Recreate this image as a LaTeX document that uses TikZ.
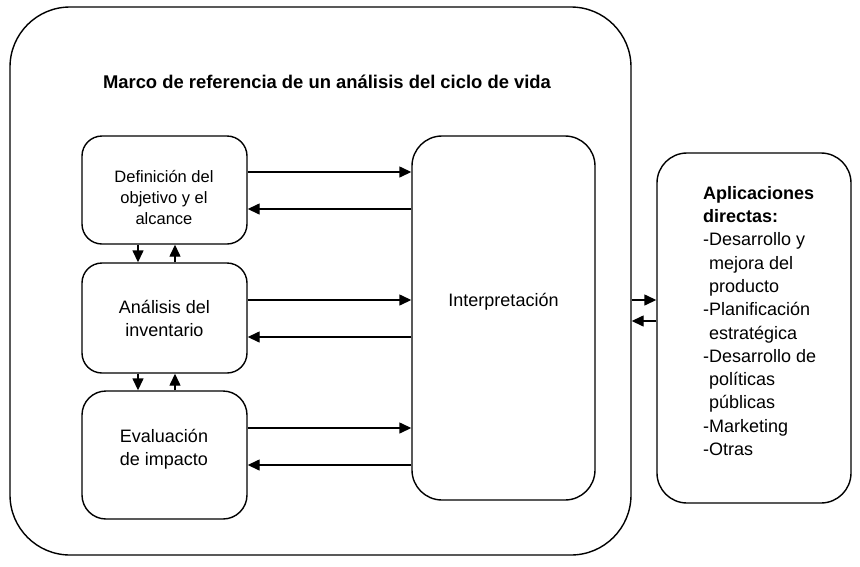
\documentclass[tikz,border=0pt]{standalone}
\usepackage{fontspec}
\setmainfont{Liberation Sans}
\usetikzlibrary{arrows.meta}

\tikzset{
  caja/.style={draw,line width=1.4pt,rounded corners=20pt,inner sep=0pt,align=center,
    font=\fontsize{18}{23}\selectfont},
  flecha/.style={-{Triangle[length=12pt,width=11pt]},line width=1.4pt},
}

\begin{document}
\begin{tikzpicture}[x=1pt,y=-1pt]
\useasboundingbox (0,0) rectangle (860,566);
% marco exterior
\node[caja,rounded corners=60pt,minimum width=621pt,minimum height=548pt] (marco) at (320.5,281) {};
\node[font=\fontsize{18.4}{22}\selectfont\bfseries] (titulo) at (327,82) {Marco de referencia de un análisis del ciclo de vida};
% fases
\node[caja,minimum width=165pt,minimum height=108pt,text depth=0pt] (defin) at (164.5,190) {};
\node[align=center,font=\fontsize{16.5}{21}\selectfont] (defin-txt) at (164,197) {Definición del\\objetivo y el\\alcance};
\node[caja,minimum width=165pt,minimum height=110pt] (anal) at (164.5,318) {Análisis del\\inventario};
\node[caja,rounded corners=24pt,minimum width=165pt,minimum height=128pt] (eval) at (164.5,455) {};
\node[align=center,font=\fontsize{18}{23}\selectfont] (eval-txt) at (164,449) {Evaluación\\de impacto};
\node[caja,rounded corners=30pt,minimum width=183pt,minimum height=364pt] (interp) at (503.5,318) {};
\node[font=\fontsize{18}{23}\selectfont] (interp-txt) at (503.5,302) {Interpretación};
% aplicaciones
\node[caja,rounded corners=30pt,minimum width=194pt,minimum height=350pt] (apli) at (754,328) {};
\node[anchor=north west,inner sep=0pt,align=left,font=\fontsize{18}{23.3}\selectfont] (apli-txt) at (703,186)
  {\textbf{Aplicaciones}\\\textbf{directas:}\\-Desarrollo y\\\hspace*{6pt}mejora del\\\hspace*{6pt}producto\\-Planificación\\\hspace*{6pt}estratégica\\-Desarrollo de\\\hspace*{6pt}políticas\\\hspace*{6pt}públicas\\-Marketing\\-Otras};
% flechas horizontales
\draw[flecha] (defin.east |- 0,172) -- (interp.west |- 0,172);
\draw[flecha] (interp.west |- 0,209) -- (defin.east |- 0,209);
\draw[flecha] (anal.east |- 0,300) -- (interp.west |- 0,300);
\draw[flecha] (interp.west |- 0,337) -- (anal.east |- 0,337);
\draw[flecha] (eval.east |- 0,428) -- (interp.west |- 0,428);
\draw[flecha] (interp.west |- 0,465) -- (eval.east |- 0,465);
\draw[flecha] (marco.east |- 0,300) -- (apli.west |- 0,300);
\draw[flecha] (apli.west |- 0,321) -- (marco.east |- 0,321);
% flechas verticales
\foreach \a/\b in {defin/anal,anal/eval}{
  \draw[flecha] (\a.south -| 138,0) -- (\b.north -| 138,0);
  \draw[flecha] (\b.north -| 175,0) -- (\a.south -| 175,0);
}
\end{tikzpicture}
\end{document}
